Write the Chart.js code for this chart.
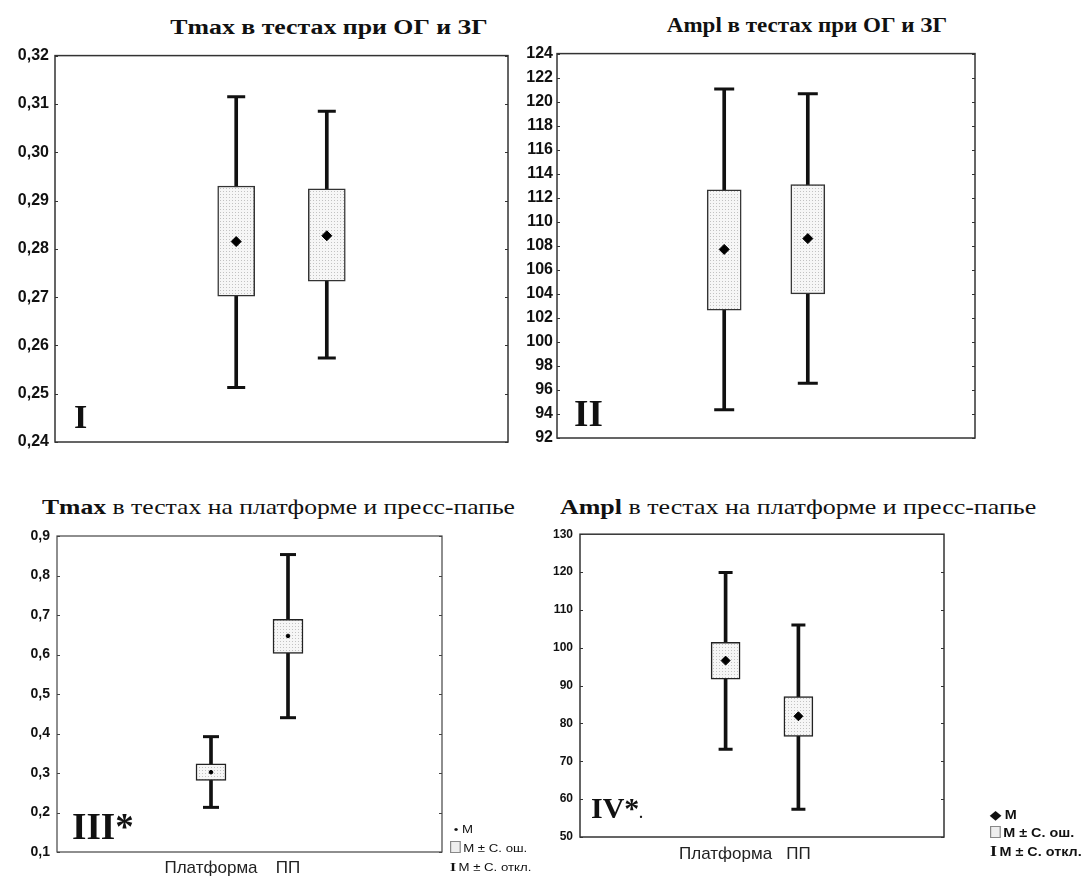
<!DOCTYPE html>
<html>
<head>
<meta charset="utf-8">
<script src="https://cdn.jsdelivr.net/npm/chart.js@4.4.1/dist/chart.umd.min.js"></script>
<style>
  body { margin: 0; background: #fff; }
  #page { position: relative; width: 1091px; height: 877px; overflow: hidden; background: #fff; }
  .panel { position: absolute; }
  .title { position: absolute; font-family: 'Liberation Serif', 'Times New Roman', serif; color: #111; white-space: nowrap; }
  .num { position: absolute; font-family: 'Liberation Serif', 'Times New Roman', serif; font-weight: bold; line-height: 1; color: #111; }
  .legend { position: absolute; font-family: 'Liberation Sans', Arial, sans-serif; color: #111; line-height: 1; transform-origin: left top; }
  .legend div { white-space: nowrap; }
  .box-ico { display: inline-block; width: 7px; height: 10px; border: 1px solid #888; background: #eee; vertical-align: -1px; margin-right: 2px; }
  .wh-ico { font-family: 'Liberation Serif', serif; font-weight: bold; margin-right: 2px; }
</style>
</head>
<body>
<div id="page">
  <div class="title" style="left:129px;top:16px;width:400px;text-align:center;font-size:20px;font-weight:bold;transform:scaleX(1.29)">Tmax в тестах при ОГ и ЗГ</div>
  <div class="title" style="left:607px;top:14px;width:400px;text-align:center;font-size:20px;font-weight:bold;transform:scaleX(1.15)">Ampl в тестах при ОГ и ЗГ</div>
  <div class="title" style="left:42px;top:494px;font-size:22px;transform:scaleX(1.165);transform-origin:left top"><b>Tmax</b> в тестах на платформе и пресс-папье</div>
  <div class="title" style="left:560px;top:494px;font-size:22px;transform:scaleX(1.18);transform-origin:left top"><b>Ampl</b> в тестах на платформе и пресс-папье</div>

  <div class="panel" style="left:0;top:40px"><canvas id="c1" width="520" height="420"></canvas></div>
  <div class="panel" style="left:520px;top:40px"><canvas id="c2" width="571" height="420"></canvas></div>
  <div class="panel" style="left:0;top:520px"><canvas id="c3" width="520" height="357"></canvas></div>
  <div class="panel" style="left:520px;top:520px"><canvas id="c4" width="571" height="357"></canvas></div>

  <div class="num" style="left:74px;top:400px;font-size:34px">I</div>
  <div class="num" style="left:574px;top:395px;font-size:37px">II</div>
  <div class="num" style="left:72px;top:808px;font-size:37px">III*</div>
  <div class="num" style="left:591px;top:793px;font-size:30px">IV*<span style="font-size:14px">.</span></div>

  <div class="legend" style="left:450px;top:824px;font-size:11px;transform:scaleX(1.2)">
    <div style="height:17px">&nbsp;• M</div>
    <div style="height:19px"><span class="box-ico"></span>M ± С. ош.</div>
    <div><span class="wh-ico" style="font-size:13px">I</span>M ± С. откл.</div>
  </div>
  <div class="legend" style="left:990px;top:809px;font-size:12px;font-weight:bold;transform:scaleX(1.2)">
    <div style="height:17px">◆ M</div>
    <div style="height:18px"><span class="box-ico"></span>M ± С. ош.</div>
    <div><span class="wh-ico" style="font-size:15px">I</span>M ± С. откл.</div>
  </div>
</div>

<script>
// Panel I: Tmax, eyes open / eyes closed
const eyesGroups = ['ОГ', 'ЗГ'];
const tmaxEyesMean = [0.2815, 0.2827];
const tmaxEyesSeLow = [0.2702, 0.2733];
const tmaxEyesSeHigh = [0.2930, 0.2924];
const tmaxEyesSdLow = [0.2513, 0.2574];
const tmaxEyesSdHigh = [0.3115, 0.3085];
const tmaxEyesTicks = [0.24, 0.25, 0.26, 0.27, 0.28, 0.29, 0.30, 0.31, 0.32];

// Panel II: Ampl, eyes open / eyes closed
const amplEyesMean = [107.7, 108.6];
const amplEyesSeLow = [102.65, 104.0];
const amplEyesSeHigh = [112.65, 113.1];
const amplEyesSdLow = [94.35, 96.55];
const amplEyesSdHigh = [121.05, 120.65];
const amplEyesTicks = [92, 94, 96, 98, 100, 102, 104, 106, 108, 110, 112, 114, 116, 118, 120, 122, 124];

// Panel III: Tmax, platform / press-papier
const supportGroups = ['Платформа', 'ПП'];
const tmaxSupportMean = [0.302, 0.647];
const tmaxSupportSeLow = [0.281, 0.603];
const tmaxSupportSeHigh = [0.323, 0.689];
const tmaxSupportSdLow = [0.213, 0.440];
const tmaxSupportSdHigh = [0.392, 0.853];
const tmaxSupportTicks = [0.1, 0.2, 0.3, 0.4, 0.5, 0.6, 0.7, 0.8, 0.9];

// Panel IV: Ampl, platform / press-papier
const amplSupportMean = [96.6, 81.9];
const amplSupportSeLow = [91.7, 76.6];
const amplSupportSeHigh = [101.4, 87.1];
const amplSupportSdLow = [73.2, 57.3];
const amplSupportSdHigh = [119.9, 106.0];
const amplSupportTicks = [50, 60, 70, 80, 90, 100, 110, 120, 130];

// the two groups sit on the middle two of five axis steps
const slot = arr => [null, null, ...arr, null, null];

function dotPattern() {
  const c = document.createElement('canvas');
  c.width = 3; c.height = 3;
  const g = c.getContext('2d');
  g.fillStyle = '#f6f6f6'; g.fillRect(0, 0, 3, 3);
  g.fillStyle = '#c2c2c2'; g.fillRect(1, 1, 1, 1);
  return g.createPattern(c, 'repeat');
}

const frame = {
  id: 'frame',
  afterDatasetsDraw(chart, args, opts) {
    const { ctx, chartArea: a, scales: { x, y } } = chart;
    ctx.save();
    ctx.strokeStyle = opts.color;
    ctx.lineWidth = opts.width;
    ctx.strokeRect(a.left, a.top, a.right - a.left, a.bottom - a.top);
    ctx.lineWidth = 1;
    ctx.beginPath();
    y.ticks.forEach(t => {
      const py = Math.round(y.getPixelForValue(t.value)) + 0.5;
      ctx.moveTo(a.left, py); ctx.lineTo(a.left + 3, py);
      ctx.moveTo(a.right, py); ctx.lineTo(a.right - 3, py);
    });
    for (let i = 1; i < x.ticks.length - 1; i++) {
      const px = Math.round(x.getPixelForValue(i)) + 0.5;
      ctx.moveTo(px, a.top); ctx.lineTo(px, a.top + 3);
      ctx.moveTo(px, a.bottom); ctx.lineTo(px, a.bottom - 3);
    }
    ctx.stroke();
    ctx.restore();
  }
};

function makeChart(id, d, s) {
  const labels = slot(d.groups.map(g => s.showGroups ? g : ''));
  new Chart(document.getElementById(id), {
    type: 'bar',
    data: {
      labels,
      datasets: [
        {
          data: slot(d.sdLow.map((v, i) => [v, d.sdHigh[i]])),
          backgroundColor: '#111', barThickness: 3, grouped: false, order: 4
        },
        {
          data: slot(d.seLow.map((v, i) => [v, d.seHigh[i]])),
          backgroundColor: dotPattern(), borderColor: s.boxBorder, borderWidth: 1.5,
          borderSkipped: false, barThickness: s.boxWidth, grouped: false, order: 3
        },
        {
          type: 'line', data: slot(d.sdHigh), showLine: false, pointStyle: 'line',
          pointRadius: s.cap, pointBorderWidth: 3, pointBorderColor: '#111', order: 2
        },
        {
          type: 'line', data: slot(d.sdLow), showLine: false, pointStyle: 'line',
          pointRadius: s.cap, pointBorderWidth: 3, pointBorderColor: '#111', order: 2
        },
        {
          type: 'line', data: slot(d.mean), showLine: false, pointStyle: s.meanStyle,
          pointRadius: s.meanR, pointBorderWidth: 1, pointBackgroundColor: '#000',
          pointBorderColor: '#000', order: 1
        }
      ]
    },
    options: {
      responsive: false,
      animation: false,
      events: [],
      layout: { padding: s.pad },
      plugins: {
        legend: { display: false },
        tooltip: { enabled: false },
        frame: { color: s.frameColor, width: s.frameWidth }
      },
      scales: {
        x: {
          offset: false,
          grid: { display: false, offset: false, drawTicks: false },
          border: { display: false },
          ticks: {
            display: s.showGroups, autoSkip: false, maxRotation: 0, padding: s.xPad,
            color: '#222', font: { size: s.xFont, family: "'Liberation Sans', Arial, sans-serif" }
          },
          afterFit: sc => { sc.height = s.xHeight; }
        },
        y: {
          min: d.ticks[0], max: d.ticks[d.ticks.length - 1],
          grid: { display: false, drawTicks: false },
          border: { display: false },
          afterBuildTicks: sc => { sc.ticks = d.ticks.map(v => ({ value: v })); },
          ticks: {
            padding: s.yPad, color: '#111',
            font: { size: s.yFont, weight: 'bold', family: "'Liberation Sans', Arial, sans-serif" },
            callback: v => s.dec ? v.toFixed(s.dec).replace('.', ',') : String(v)
          },
          afterFit: sc => { sc.width = s.yWidth; }
        }
      }
    },
    plugins: [frame]
  });
}

makeChart('c1', {
  groups: eyesGroups, mean: tmaxEyesMean, seLow: tmaxEyesSeLow, seHigh: tmaxEyesSeHigh,
  sdLow: tmaxEyesSdLow, sdHigh: tmaxEyesSdHigh, ticks: tmaxEyesTicks
}, {
  showGroups: false, pad: { left: 0, top: 13, right: 9, bottom: 0 }, yWidth: 55, xHeight: 18,
  yPad: 6, yFont: 16, dec: 2, xPad: 6, xFont: 15, boxWidth: 37, cap: 9, meanStyle: 'rectRot', meanR: 5,
  boxBorder: '#333', frameColor: '#333', frameWidth: 1.5
});

makeChart('c2', {
  groups: eyesGroups, mean: amplEyesMean, seLow: amplEyesSeLow, seHigh: amplEyesSeHigh,
  sdLow: amplEyesSdLow, sdHigh: amplEyesSdHigh, ticks: amplEyesTicks
}, {
  showGroups: false, pad: { left: 0, top: 10, right: 116, bottom: 0 }, yWidth: 37, xHeight: 22,
  yPad: 4, yFont: 16, dec: 0, xPad: 6, xFont: 15, boxWidth: 34, cap: 10, meanStyle: 'rectRot', meanR: 5,
  boxBorder: '#333', frameColor: '#333', frameWidth: 1.5
});

makeChart('c3', {
  groups: supportGroups, mean: tmaxSupportMean, seLow: tmaxSupportSeLow, seHigh: tmaxSupportSeHigh,
  sdLow: tmaxSupportSdLow, sdHigh: tmaxSupportSdHigh, ticks: tmaxSupportTicks
}, {
  showGroups: true, pad: { left: 0, top: 16, right: 78, bottom: 0 }, yWidth: 57, xHeight: 25,
  yPad: 7, yFont: 14, dec: 1, xPad: 6, xFont: 17, boxWidth: 30, cap: 8, meanStyle: 'circle', meanR: 1.8,
  boxBorder: '#222', frameColor: '#444', frameWidth: 1.2
});

makeChart('c4', {
  groups: supportGroups, mean: amplSupportMean, seLow: amplSupportSeLow, seHigh: amplSupportSeHigh,
  sdLow: amplSupportSdLow, sdHigh: amplSupportSdHigh, ticks: amplSupportTicks
}, {
  showGroups: true, pad: { left: 0, top: 13, right: 147, bottom: 0 }, yWidth: 60, xHeight: 40,
  yPad: 7, yFont: 12, dec: 0, xPad: 7, xFont: 17, boxWidth: 29, cap: 7, meanStyle: 'rectRot', meanR: 4.5,
  boxBorder: '#222', frameColor: '#333', frameWidth: 1.5
});
</script>
</body>
</html>
